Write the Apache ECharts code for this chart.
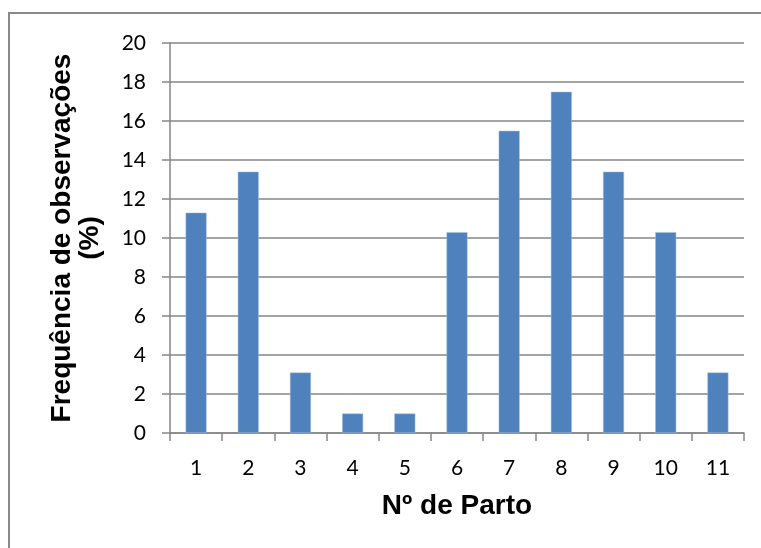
<!DOCTYPE html>
<html>
<head>
<meta charset="utf-8">
<script src="https://cdn.jsdelivr.net/npm/echarts@6/dist/echarts.min.js"></script>
<style>html,body{margin:0;padding:0;background:#fff}#c{width:761px;height:548px}</style>
</head>
<body>
<div id="c"></div>
<script>
const categories = ['1','2','3','4','5','6','7','8','9','10','11'];
const values = [11.3, 13.4, 3.1, 1.0, 1.0, 10.3, 15.5, 17.5, 13.4, 10.3, 3.1];
const xTitle = 'Nº de Parto';
const yTitle = 'Frequência de observações\n(%)';

const chart = echarts.init(document.getElementById('c'));
chart.setOption({
  animation: false,
  backgroundColor: '#fff',
  graphic: [{
    type: 'rect', silent: true,
    shape: {x: 9, y: 13, width: 800, height: 600},
    style: {fill: 'none', stroke: '#8a8a8a', lineWidth: 2}
  }],
  grid: {left: 170, right: 17, top: 43, bottom: 115, containLabel: false},
  xAxis: {
    type: 'category', data: categories,
    axisLine: {lineStyle: {color: '#868686', width: 1.5}},
    axisTick: {show: true, length: 8, lineStyle: {color: '#868686', width: 1.5}},
    axisLabel: {color: '#000', fontSize: 21, fontFamily: 'Lato', margin: 25},
    name: xTitle, nameLocation: 'middle', nameGap: 59,
    nameTextStyle: {color: '#000', fontSize: 28, fontWeight: 'bold', fontFamily: 'Liberation Sans'}
  },
  yAxis: {
    type: 'value', min: 0, max: 20, interval: 2,
    axisLine: {show: true, lineStyle: {color: '#868686', width: 1.5}},
    axisTick: {show: true, length: 8, lineStyle: {color: '#868686', width: 1.5}},
    splitLine: {lineStyle: {color: '#868686', width: 1.5}},
    axisLabel: {color: '#000', fontSize: 21, fontFamily: 'Lato', margin: 24},
    name: yTitle, nameLocation: 'middle', nameGap: 66,
    nameTextStyle: {color: '#000', fontSize: 28, fontWeight: 'bold', fontFamily: 'Liberation Sans', lineHeight: 28}
  },
  series: [{
    type: 'bar', data: values, barWidth: 21,
    itemStyle: {color: '#4F81BD', borderColor: '#a9c1e0', borderWidth: 0.5}
  }]
});
</script>
</body>
</html>
